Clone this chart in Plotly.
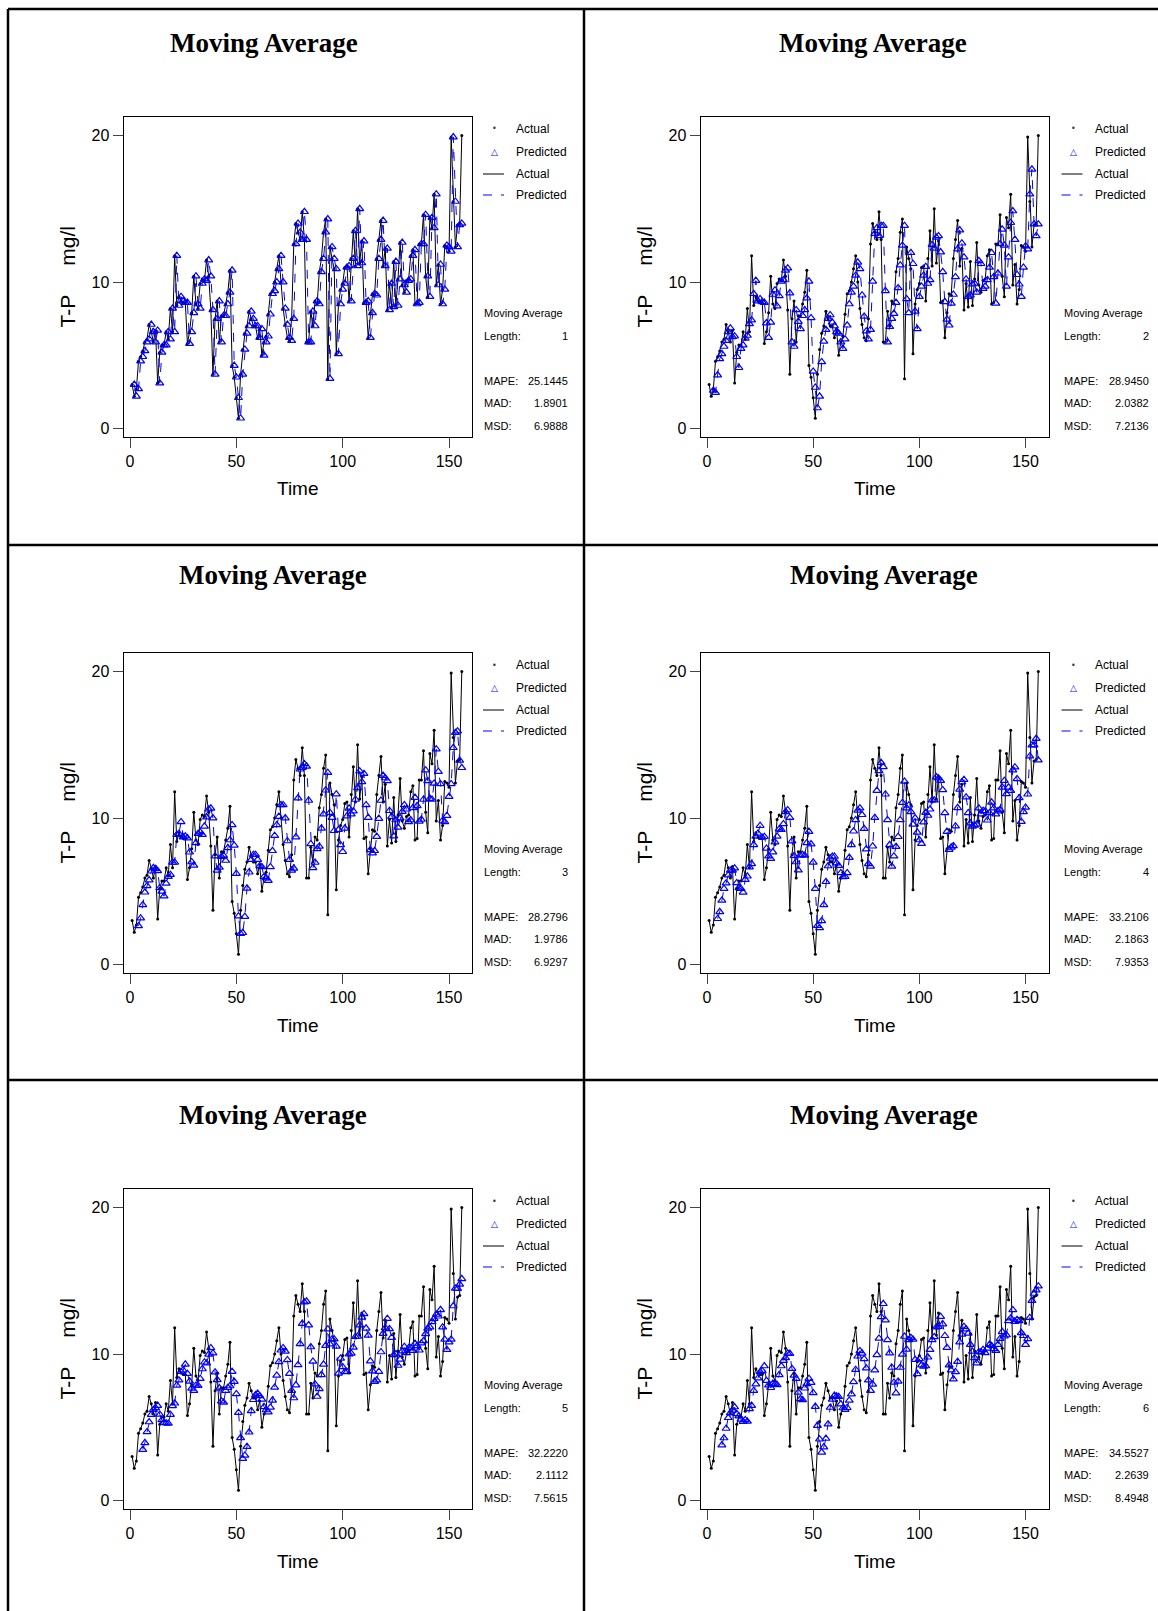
import plotly.graph_objects as go

W, H = 1158, 1611

# ---------------- data ----------------
time = list(range(1, 157))
actual = [
    3.0, 2.2, 2.7, 4.6, 4.9, 5.3, 5.9, 6.1, 7.1, 6.6,
    5.9, 6.7, 3.1, 5.2, 5.7, 5.7, 6.6, 6.1, 8.2, 6.6,
    11.8, 8.4, 9.0, 8.7, 8.6, 8.6, 5.8, 6.6, 7.9, 10.4,
    8.5, 8.2, 9.9, 10.2, 10.1, 11.5, 10.4, 8.1, 3.7, 7.5,
    8.7, 5.9, 7.7, 7.7, 8.5, 9.3, 10.8, 4.3, 3.5, 2.1,
    0.7, 3.7, 5.4, 6.5, 7.0, 8.0, 7.5, 7.0, 7.0, 6.2,
    6.8, 5.0, 5.9, 6.3, 7.8, 9.2, 9.4, 10.0, 10.9, 11.8,
    10.0, 8.2, 7.1, 6.2, 6.0, 7.5, 12.6, 14.0, 13.4, 12.9,
    14.8, 12.9, 5.9, 5.9, 8.0, 7.0, 8.7, 8.5, 10.7, 11.6,
    13.4, 14.3, 3.4, 12.4, 11.6, 10.9, 5.1, 8.5, 9.5, 9.9,
    11.0, 11.1, 8.7, 11.6, 13.5, 11.1, 15.0, 11.3, 12.8, 8.6,
    8.7, 6.2, 7.9, 9.2, 9.1, 11.6, 12.9, 14.2, 11.1, 12.3,
    8.1, 9.9, 8.3, 11.4, 8.4, 10.2, 12.7, 9.8, 9.3, 10.1,
    10.2, 11.8, 12.2, 8.5, 8.6, 12.6, 12.6, 14.6, 10.4, 9.0,
    14.4, 13.7, 16.0, 9.8, 11.2, 8.5, 9.5, 12.5, 12.4, 12.1,
    19.9, 15.5, 12.4, 13.9, 14.0, 20.0,
]
lengths = [1, 2, 3, 4, 5, 6]
mape = ["25.1445", "28.9450", "28.2796", "33.2106", "32.2220", "34.5527"]
mad = ["1.8901", "2.0382", "1.9786", "2.1863", "2.1112", "2.2639"]
msd = ["6.9888", "7.2136", "6.9297", "7.9353", "7.5615", "8.4948"]
x_ticks = [0, 50, 100, 150]
y_ticks = [0, 10, 20]
title_text = "Moving Average"
x_title = "Time"
y_title = "T-P\u00a0\u00a0\u00a0\u00a0\u00a0mg/l"


def ma_forecast(y, k):
    """Minitab moving-average fit: prediction at t = mean of the k previous actuals."""
    tt, vv = [], []
    for i in range(k, len(y)):
        tt.append(i + 1)
        vv.append(sum(y[i - k:i]) / k)
    return tt, vv


# ---------------- layout geometry (pixels) ----------------
col_x = [(123.5, 472.0), (700.5, 1048.5)]
row_y = [(117.0, 437.0), (653.0, 973.0), (1189.0, 1509.0)]
title_pos = [(263.5, 43), (873, 43), (273, 575), (884, 575), (273, 1115), (884, 1115)]

NARROW = "Liberation Sans Narrow, Arial Narrow, Liberation Sans, Arial, sans-serif"
SERIF = "Liberation Serif, Times New Roman, serif"
BLUE = "#0000FF"


def px(x):
    return x / W


def py(y):
    return 1 - y / H


fig = go.Figure()
annotations = []
shapes = []

for p, k in enumerate(lengths):
    r, c = divmod(p, 2)
    x0, x1 = col_x[c]
    y0, y1 = row_y[r]
    idx = p + 1
    xa = "x" if idx == 1 else f"x{idx}"
    ya = "y" if idx == 1 else f"y{idx}"

    # actual line + dots
    fig.add_trace(go.Scatter(
        x=time, y=actual, mode="lines+markers", xaxis=xa, yaxis=ya,
        line=dict(color="black", width=1),
        marker=dict(color="black", size=3, symbol="circle"),
        showlegend=False, hoverinfo="skip"))
    # predicted
    pt, pv = ma_forecast(actual, k)
    fig.add_trace(go.Scatter(
        x=pt, y=pv, mode="lines+markers", xaxis=xa, yaxis=ya,
        line=dict(color=BLUE, width=1, dash="dash"),
        marker=dict(color=BLUE, size=7, symbol="triangle-up-open", line=dict(width=1.2, color=BLUE)),
        showlegend=False, hoverinfo="skip"))

    axis_common = dict(
        showline=True, mirror=True, linecolor="black", linewidth=1,
        ticks="outside", ticklen=10, tickwidth=1, tickcolor="#444",
        showgrid=False, zeroline=False,
        tickfont=dict(family=NARROW, size=16, color="black"),
    )
    fig.update_layout({
        ("xaxis" if idx == 1 else f"xaxis{idx}"): dict(
            domain=[px(x0), px(x1)], anchor=ya, range=[-3.06, 160.8],
            tickvals=x_ticks, **axis_common),
        ("yaxis" if idx == 1 else f"yaxis{idx}"): dict(
            domain=[py(y1), py(y0)], anchor=xa, range=[-0.58, 21.27],
            tickvals=y_ticks, **axis_common),
    })

    # title
    tx, ty = title_pos[p]
    annotations.append(dict(
        x=px(tx), y=py(ty), xref="paper", yref="paper", showarrow=False,
        xanchor="center", yanchor="middle", text=title_text,
        font=dict(family=SERIF, size=27, color="black", weight="bold")))
    # axis titles
    annotations.append(dict(
        x=px((x0 + x1) / 2), y=py(y1 + 52), xref="paper", yref="paper", showarrow=False,
        xanchor="center", yanchor="middle", text=x_title,
        font=dict(family=NARROW, size=19, color="black")))
    annotations.append(dict(
        x=px(x0 - 57), y=py((y0 + y1) / 2), xref="paper", yref="paper", showarrow=False,
        xanchor="center", yanchor="middle", text=y_title, textangle=-90,
        font=dict(family=NARROW, size=21, color="black")))

    # legend
    if c == 0:
        ln0, dotx, txt, stx, valx = x1 + 11, x1 + 22, x1 + 42, x1 + 10, x1 + 98
    else:
        ln0, dotx, txt, stx, valx = x1 + 13, x1 + 25, x1 + 44, x1 + 13, x1 + 102
    leg_y = [y0 + 12, y0 + 35, y0 + 57, y0 + 78]
    leg_txt = ["Actual", "Predicted", "Actual", "Predicted"]
    for ly, lt in zip(leg_y, leg_txt):
        annotations.append(dict(
            x=px(txt), y=py(ly), xref="paper", yref="paper", showarrow=False,
            xanchor="left", yanchor="middle", text=lt,
            font=dict(family=NARROW, size=12, color="black")))
    annotations.append(dict(
        x=px(dotx), y=py(leg_y[0]), xref="paper", yref="paper", showarrow=False,
        xanchor="center", yanchor="middle", text="•",
        font=dict(family="DejaVu Sans", size=8, color="#333")))
    annotations.append(dict(
        x=px(dotx), y=py(leg_y[1]), xref="paper", yref="paper", showarrow=False,
        xanchor="center", yanchor="middle", text="<b>△</b>",
        font=dict(family="DejaVu Sans", size=9, color=BLUE)))
    shapes.append(dict(type="line", xref="paper", yref="paper",
                       x0=px(ln0), x1=px(ln0 + 21), y0=py(leg_y[2]), y1=py(leg_y[2]),
                       line=dict(color="black", width=1)))
    shapes.append(dict(type="line", xref="paper", yref="paper",
                       x0=px(ln0), x1=px(ln0 + 21), y0=py(leg_y[3]), y1=py(leg_y[3]),
                       line=dict(color=BLUE, width=1.2, dash="dash")))

    # statistics block
    stat_rows = [
        (y0 + 196, "Moving Average", ""),
        (y0 + 219, "Length:", str(k)),
        (y0 + 264, "MAPE:", mape[p]),
        (y0 + 286, "MAD:", mad[p]),
        (y0 + 309, "MSD:", msd[p]),
    ]
    for sy, lab, val in stat_rows:
        annotations.append(dict(
            x=px(stx), y=py(sy), xref="paper", yref="paper", showarrow=False,
            xanchor="left", yanchor="middle", text=lab,
            font=dict(family=NARROW, size=11, color="black")))
        if val:
            annotations.append(dict(
                x=px(valx), y=py(sy), xref="paper", yref="paper", showarrow=False,
                xanchor="right", yanchor="middle", text=val,
                font=dict(family=NARROW, size=11, color="black")))

# panel frame lines
frame = dict(color="black", width=2.5)
shapes += [
    dict(type="line", xref="paper", yref="paper", x0=px(8), x1=1, y0=py(9), y1=py(9), line=frame),
    dict(type="line", xref="paper", yref="paper", x0=px(8), x1=1, y0=py(545), y1=py(545), line=frame),
    dict(type="line", xref="paper", yref="paper", x0=px(8), x1=1, y0=py(1080), y1=py(1080), line=frame),
    dict(type="line", xref="paper", yref="paper", x0=px(8), x1=px(8), y0=py(9), y1=0, line=frame),
    dict(type="line", xref="paper", yref="paper", x0=px(584), x1=px(584), y0=py(9), y1=0, line=frame),
]

fig.update_layout(
    width=W, height=H, margin=dict(l=0, r=0, t=0, b=0),
    paper_bgcolor="white", plot_bgcolor="white",
    showlegend=False, annotations=annotations, shapes=shapes,
)

fig.write_html("out.html")
